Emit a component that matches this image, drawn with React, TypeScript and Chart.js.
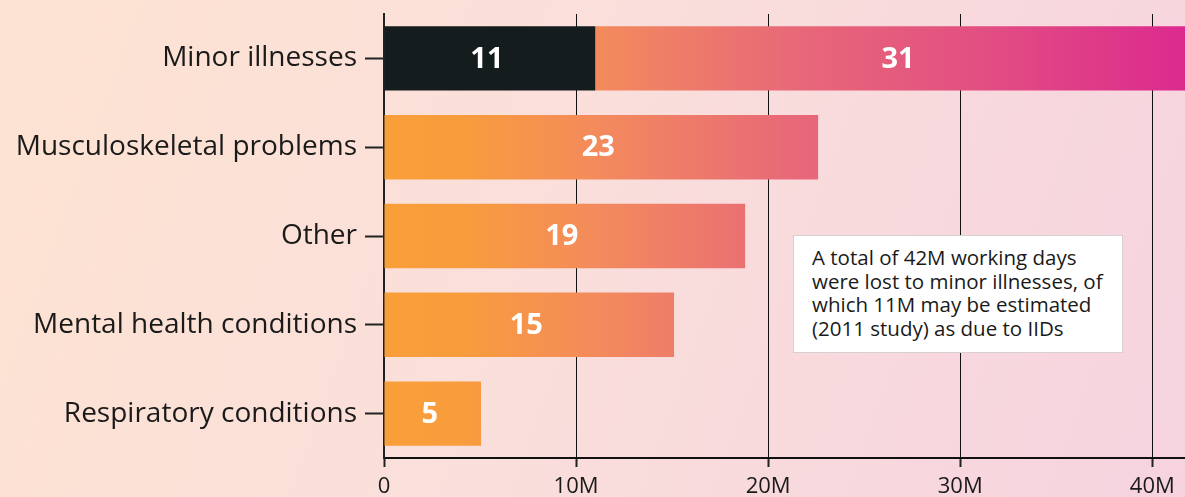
import React, { useEffect, useRef } from "react";
import { Chart, registerables } from "chart.js";

Chart.register(...registerables);

const categories = [
  "Minor illnesses",
  "Musculoskeletal problems",
  "Other",
  "Mental health conditions",
  "Respiratory conditions",
];
const iidDays = [11, null, null, null, null];
const otherDays = [31, 22.6, 18.8, 15.1, 5.05];
const tickValues = [0, 10, 20, 30, 40];
const noteLines = [
  "A total of 42M working days",
  "were lost to minor illnesses, of",
  "which 11M may be estimated",
  "(2011 study) as due to IIDs",
];

const FONT = "'Open Sans', 'Noto Sans', sans-serif";

const labelPlugin = {
  id: "barLabels",
  afterDatasetsDraw(chart: any) {
    const { ctx, chartArea } = chart;
    ctx.save();
    ctx.fillStyle = "#ffffff";
    ctx.font = `bold 29px ${FONT}`;
    ctx.textAlign = "center";
    ctx.textBaseline = "middle";
    chart.data.datasets.forEach((ds: any, di: number) => {
      const meta = chart.getDatasetMeta(di);
      meta.data.forEach((el: any, i: number) => {
        const v = ds.data[i];
        if (v == null) return;
        const left = Math.min(el.base, el.x);
        const rawRight = Math.max(el.base, el.x);
        const clipped = rawRight > chartArea.right;
        const cx = clipped ? (left + rawRight) / 2 + 5 : (left + rawRight) / 2 - 3;
        ctx.fillText(String(Math.round(v)), cx, el.y + 1);
      });
    });
    ctx.restore();
  },
};

export default function App() {
  const canvasRef = useRef<HTMLCanvasElement | null>(null);

  useEffect(() => {
    if (!canvasRef.current) return;
    const gradFill = (c: any) => {
      const chart = c.chart;
      const ca = chart.chartArea;
      if (!ca) return "#f89e3b";
      const g = chart.ctx.createLinearGradient(ca.left, 0, ca.right, 0);
      g.addColorStop(0, "#f99f39");
      g.addColorStop(0.1, "#f89c3d");
      g.addColorStop(0.27, "#f38a5d");
      g.addColorStop(0.5, "#e86a77");
      g.addColorStop(0.75, "#e24e82");
      g.addColorStop(1, "#dc2a8e");
      return g;
    };
    const chart = new Chart(canvasRef.current, {
      type: "bar",
      data: {
        labels: categories,
        datasets: [
          {
            label: "IIDs",
            data: iidDays as any,
            backgroundColor: "#141c1e",
            categoryPercentage: 0.725,
            barPercentage: 1,
          },
          {
            label: "Other",
            data: otherDays,
            backgroundColor: gradFill,
            categoryPercentage: 0.725,
            barPercentage: 1,
          },
        ],
      },
      options: {
        indexAxis: "y",
        animation: false,
        responsive: false,
        maintainAspectRatio: false,
        layout: { padding: { top: 14, right: 0, bottom: 0, left: 0 } },
        plugins: {
          legend: { display: false },
          tooltip: { enabled: false },
        },
        scales: {
          x: {
            stacked: true,
            min: 0,
            max: 41.7,
            afterFit(scale: any) {
              scale.height = 39;
              scale.paddingLeft = 0;
              scale.paddingRight = 0;
            },
            afterBuildTicks(scale: any) {
              scale.ticks = tickValues.map((v) => ({ value: v }));
            },
            border: { display: true, color: "#111", width: 2 },
            grid: {
              color: "#111",
              lineWidth: 1,
              tickLength: 9,
              tickColor: "#222",
              tickWidth: 2,
            },
            ticks: {
              color: "#1a1a1a",
              font: { family: FONT, size: 22 },
              padding: 7,
              callback: (v: any) => (v === 0 ? "0" : `${v}M`),
            },
          },
          y: {
            stacked: true,
            afterFit(scale: any) {
              scale.width = 384;
              scale.paddingTop = 0;
              scale.paddingBottom = 0;
            },
            border: { display: true, color: "#222", width: 2 },
            grid: {
              offset: false,
              drawOnChartArea: false,
              tickLength: 19,
              tickColor: "#222",
              tickWidth: 2,
            },
            ticks: {
              color: "#1a1a1a",
              font: { family: FONT, size: 28 },
              padding: 8,
            },
          },
        },
      },
      plugins: [labelPlugin],
    });
    return () => chart.destroy();
  }, []);

  return (
    <div
      style={{
        position: "fixed",
        left: 0,
        top: 0,
        width: 1185,
        height: 497,
        background: "linear-gradient(110deg, #fde3d1 0%, #fadfdb 45%, #f6d3df 100%)",
        overflow: "hidden",
      }}
    >
      <canvas ref={canvasRef} width={1185} height={497} style={{ display: "block" }} />
      <div
        style={{
          position: "absolute",
          left: 793,
          top: 235,
          width: 330,
          height: 118,
          boxSizing: "border-box",
          background: "#ffffff",
          border: "1px solid #d8cfd2",
          padding: "10px 0 0 18px",
          fontFamily: FONT,
          fontSize: 20.5,
          lineHeight: "23.5px",
          color: "#1a1a1a",
          letterSpacing: 0,
        }}
      >
        {noteLines.map((l, i) => (
          <div key={i} style={{ whiteSpace: "nowrap" }}>{l}</div>
        ))}
      </div>
    </div>
  );
}
